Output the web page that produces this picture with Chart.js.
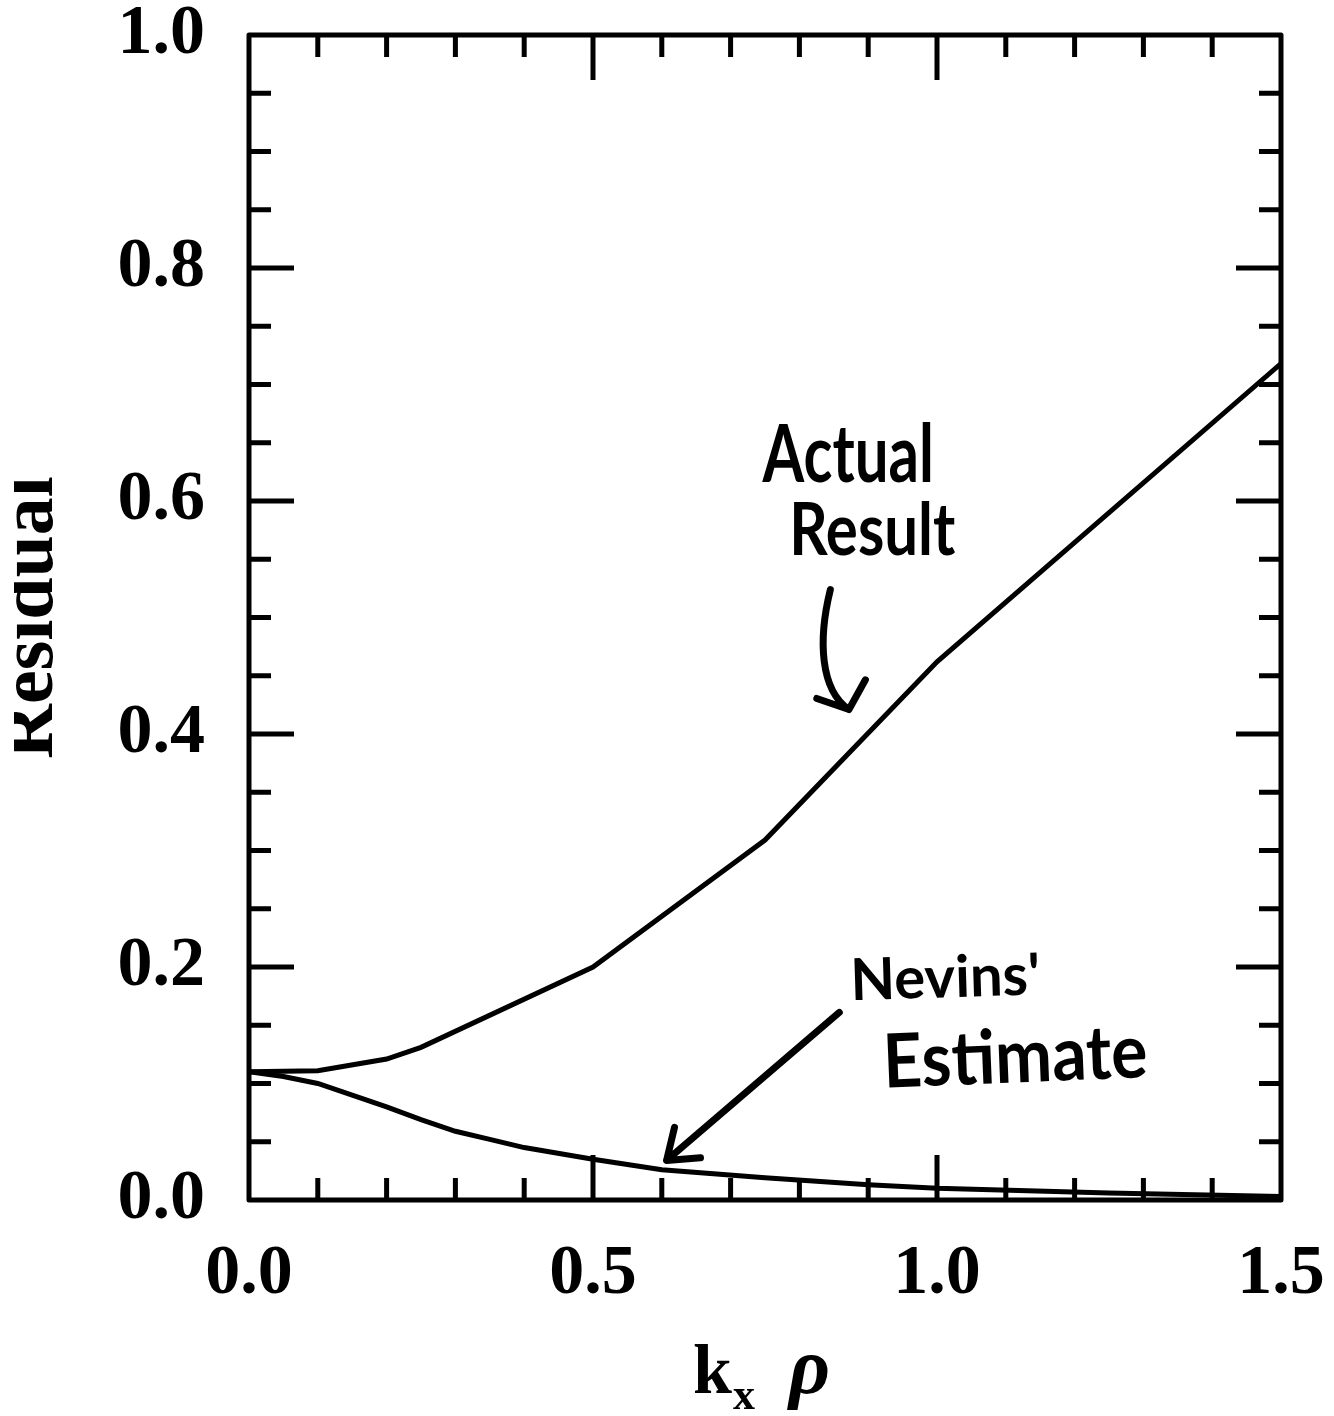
<!DOCTYPE html>
<html>
<head>
<meta charset="utf-8">
<title>Residual vs kx rho</title>
<script src="https://cdn.jsdelivr.net/npm/chart.js@4/dist/chart.umd.min.js"></script>
<style>
  html, body { margin: 0; padding: 0; background: #fff; }
  #wrap { width: 1334px; height: 1416px; }
</style>
</head>
<body>
<div id="wrap"><canvas id="residualChart" width="1334" height="1416"></canvas></div>
<script>
// k_x rho where the actual residual was computed
const kxActual = [0, 0.1, 0.2, 0.25, 0.5, 0.75, 1.0, 1.5];
const residualActual = [0.11, 0.111, 0.121, 0.131, 0.2, 0.309, 0.462, 0.718];

// Nevins' estimate
const kxNevins = [0, 0.05, 0.1, 0.15, 0.2, 0.25, 0.3, 0.35, 0.4, 0.5, 0.6, 0.75, 0.9, 1.0, 1.25, 1.5];
const residualNevins = [0.11, 0.106, 0.1, 0.09, 0.08, 0.069, 0.059, 0.052, 0.045, 0.035, 0.026, 0.019, 0.013, 0.01, 0.006, 0.003];

const xTickLabels = ["0.0", "0.5", "1.0", "1.5"];
const yTickLabels = ["0.0", "0.2", "0.4", "0.6", "0.8", "1.0"];

const tickFont = "Liberation Serif";
const handFont = "Lato";

function toPoints(xs, ys) {
  return xs.map((x, i) => ({ x: x, y: ys[i] }));
}

// frame + inward ticks on all four sides (major ticks longer)
const framePlugin = {
  id: "frame",
  afterDraw(chart) {
    const ctx = chart.ctx;
    const a = chart.chartArea;
    const xs = chart.scales.x;
    const ys = chart.scales.y;
    ctx.save();
    ctx.strokeStyle = "#000";
    ctx.lineWidth = 5;
    ctx.lineCap = "butt";
    ctx.beginPath();
    // x ticks every 0.1, major every 0.5
    for (let i = 1; i < 15; i++) {
      const px = xs.getPixelForValue(i / 10);
      const len = i % 5 === 0 ? 45 : 22;
      ctx.moveTo(px, a.bottom);
      ctx.lineTo(px, a.bottom - len);
      ctx.moveTo(px, a.top);
      ctx.lineTo(px, a.top + len);
    }
    // y ticks every 0.05, major every 0.2
    for (let i = 1; i < 20; i++) {
      const py = ys.getPixelForValue(i / 20);
      const len = i % 4 === 0 ? 45 : 22;
      ctx.moveTo(a.left, py);
      ctx.lineTo(a.left + len, py);
      ctx.moveTo(a.right, py);
      ctx.lineTo(a.right - len, py);
    }
    ctx.stroke();
    ctx.lineJoin = "round";
    ctx.strokeRect(a.left, a.top, a.right - a.left, a.bottom - a.top);

    // axis titles
    ctx.fillStyle = "#000";
    const cx = (a.left + a.right) / 2;
    const by = a.bottom + 193;
    ctx.textBaseline = "alphabetic";
    ctx.textAlign = "left";
    ctx.font = "bold 70px '" + tickFont + "'";
    ctx.fillText("k", cx - 72, by);
    ctx.font = "bold 44px '" + tickFont + "'";
    ctx.fillText("x", cx - 32, by + 16);
    ctx.font = "bold italic 80px '" + tickFont + "'";
    ctx.fillText("\u03C1", cx + 24, by);

    ctx.save();
    ctx.beginPath();
    ctx.rect(14, 0, chart.width, chart.height);
    ctx.clip();
    ctx.translate(52, (a.top + a.bottom) / 2);
    ctx.rotate(-Math.PI / 2);
    ctx.textAlign = "center";
    ctx.font = "bold 76px '" + tickFont + "'";
    ctx.fillText("Residual", 0, 0);
    ctx.restore();
    ctx.restore();
  },
};

// hand-written notes and arrows, anchored in data units
const notes = [
  { text: "Actual", x: 0.871, y: 0.616, size: 60, sy: 1.35, rot: 0 },
  { text: "Result", x: 0.906, y: 0.554, size: 60, sy: 1.2, rot: 0 },
  { text: "Nevins'", x: 1.013, y: 0.174, size: 58, sy: 1.0, rot: -0.03 },
  { text: "Estimate", x: 1.115, y: 0.101, size: 68, sy: 1.1, rot: -0.04 },
];
const actualArrow = [[0.845, 0.524], [0.827, 0.481], [0.83, 0.438], [0.872, 0.421]];
const nevinsArrow = [[0.858, 0.161], [0.607, 0.034]];

function arrowHead(ctx, x, y, angle, len, spread) {
  ctx.moveTo(x + len * Math.cos(angle + Math.PI - spread), y + len * Math.sin(angle + Math.PI - spread));
  ctx.lineTo(x, y);
  ctx.lineTo(x + len * Math.cos(angle + Math.PI + spread), y + len * Math.sin(angle + Math.PI + spread));
}

const notesPlugin = {
  id: "notes",
  afterDraw(chart) {
    const ctx = chart.ctx;
    const xs = chart.scales.x;
    const ys = chart.scales.y;
    const px = (p) => [xs.getPixelForValue(p[0]), ys.getPixelForValue(p[1])];
    ctx.save();
    ctx.fillStyle = "#000";
    ctx.strokeStyle = "#000";
    ctx.textAlign = "center";
    ctx.textBaseline = "alphabetic";
    notes.forEach((n) => {
      ctx.save();
      ctx.translate(xs.getPixelForValue(n.x), ys.getPixelForValue(n.y));
      ctx.rotate(n.rot);
      ctx.scale(1, n.sy);
      ctx.font = "bold " + n.size + "px '" + handFont + "'";
      ctx.fillText(n.text, 0, 0);
      ctx.restore();
    });

    ctx.lineWidth = 7;
    ctx.lineCap = "round";
    ctx.lineJoin = "round";
    // curved arrow to the actual result
    const [p0, p1, p2, p3] = actualArrow.map(px);
    ctx.beginPath();
    ctx.moveTo(p0[0], p0[1]);
    ctx.bezierCurveTo(p1[0], p1[1], p2[0], p2[1], p3[0], p3[1]);
    arrowHead(ctx, p3[0], p3[1], (69 * Math.PI) / 180, 34, (50 * Math.PI) / 180);
    ctx.stroke();

    // straight arrow to Nevins' estimate
    const [q0, q1] = nevinsArrow.map(px);
    ctx.beginPath();
    ctx.moveTo(q0[0], q0[1]);
    ctx.lineTo(q1[0], q1[1]);
    arrowHead(ctx, q1[0], q1[1], Math.atan2(q1[1] - q0[1], q1[0] - q0[0]), 34, (36 * Math.PI) / 180);
    ctx.stroke();
    ctx.restore();
  },
};

// keep the plot box fixed: no extra room for label overhang
function fixBox(scale) {
  if (scale.isHorizontal()) {
    scale.height = 216;
  } else {
    scale.width = 249;
  }
  scale.paddingTop = 0;
  scale.paddingBottom = 0;
  scale.paddingLeft = 0;
  scale.paddingRight = 0;
}

const ctx = document.getElementById("residualChart").getContext("2d");
new Chart(ctx, {
  type: "line",
  data: {
    datasets: [
      {
        label: "Actual Result",
        data: toPoints(kxActual, residualActual),
        borderColor: "#000",
        borderWidth: 5,
        pointRadius: 0,
        tension: 0,
      },
      {
        label: "Nevins' Estimate",
        data: toPoints(kxNevins, residualNevins),
        borderColor: "#000",
        borderWidth: 5,
        pointRadius: 0,
        tension: 0,
      },
    ],
  },
  options: {
    responsive: false,
    animation: false,
    layout: { padding: { top: 35, right: 53, left: 0, bottom: 0 } },
    plugins: {
      legend: { display: false },
      tooltip: { enabled: false },
    },
    scales: {
      x: {
        type: "linear",
        min: 0,
        max: 1.5,
        border: { display: false },
        grid: { display: false, drawTicks: false },
        afterFit: fixBox,
        ticks: {
          stepSize: 0.5,
          padding: 33,
          maxRotation: 0,
          color: "#000",
          font: { family: tickFont, size: 70, weight: "bold" },
          callback: (v, i) => xTickLabels[i],
        },
      },
      y: {
        type: "linear",
        min: 0,
        max: 1,
        border: { display: false },
        grid: { display: false, drawTicks: false },
        afterFit: fixBox,
        ticks: {
          stepSize: 0.2,
          padding: 44,
          color: "#000",
          font: { family: tickFont, size: 70, weight: "bold" },
          callback: (v, i) => yTickLabels[i],
        },
      },
    },
  },
  plugins: [framePlugin, notesPlugin],
});
</script>
</body>
</html>
